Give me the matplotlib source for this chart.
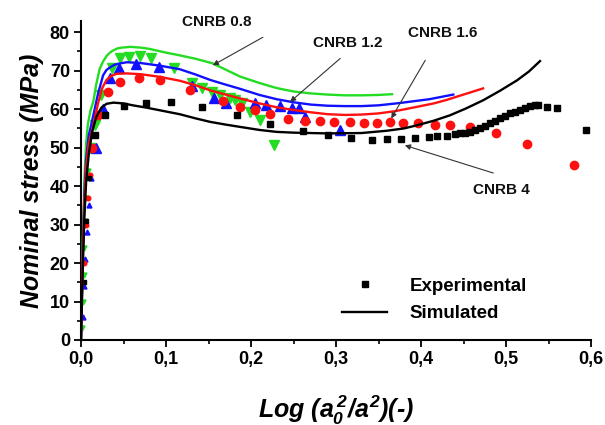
import matplotlib
matplotlib.use("Agg")
import matplotlib.pyplot as plt
from matplotlib.lines import Line2D
from matplotlib.ticker import MultipleLocator, FixedLocator, FixedFormatter

plt.rcParams['font.family'] = ['Liberation Sans', 'DejaVu Sans']
plt.rcParams['font.weight'] = 'bold'
plt.rcParams['mathtext.fontset'] = 'custom'
plt.rcParams['mathtext.it'] = 'Liberation Sans:bold:italic'
plt.rcParams['mathtext.rm'] = 'Liberation Sans:bold:italic'

# ---- simulated curves ----
sim_x_08 = [0, 0.002, 0.004, 0.006, 0.008, 0.011, 0.0145, 0.018, 0.022, 0.026, 0.03, 0.034, 0.038, 0.043, 0.048, 0.058, 0.07, 0.08, 0.09, 0.10, 0.116, 0.135, 0.155, 0.17, 0.187, 0.21, 0.23, 0.25, 0.27, 0.29, 0.31, 0.33, 0.35, 0.366]
sim_y_08 = [0, 25, 42, 51, 56, 59.5, 62, 66.5, 70.5, 72.4, 73.8, 74.7, 75.3, 75.8, 76, 76.2, 76, 75.7, 75.2, 74.7, 74, 73.1, 71.9, 70.3, 68.5, 66.8, 65.5, 64.6, 64.1, 63.8, 63.6, 63.6, 63.7, 63.9]

sim_x_12 = [0, 0.002, 0.004, 0.006, 0.009, 0.0145, 0.02, 0.026, 0.03, 0.035, 0.04, 0.046, 0.054, 0.07, 0.093, 0.116, 0.135, 0.152, 0.17, 0.187, 0.21, 0.23, 0.25, 0.27, 0.29, 0.31, 0.33, 0.35, 0.375, 0.41, 0.438]
sim_y_12 = [0, 22, 38, 47, 53, 58.4, 64, 68.8, 70.2, 71, 71.6, 71.9, 72.2, 72, 71.3, 70.4, 69, 67.6, 66.4, 65.3, 63.7, 62.6, 61.8, 61.2, 60.9, 60.8, 60.8, 61, 61.6, 62.6, 63.8]

sim_x_16 = [0, 0.002, 0.004, 0.006, 0.009, 0.0145, 0.02, 0.025, 0.03, 0.036, 0.042, 0.054, 0.07, 0.093, 0.116, 0.135, 0.152, 0.17, 0.187, 0.21, 0.23, 0.25, 0.27, 0.29, 0.31, 0.33, 0.35, 0.37, 0.395, 0.415, 0.43, 0.45, 0.473]
sim_y_16 = [0, 21, 36, 45, 51, 55.8, 61.5, 65.5, 67.6, 68.7, 69.2, 69.3, 69.1, 68.4, 67.4, 66.2, 64.9, 63.8, 62.8, 61.5, 60.5, 59.8, 59.2, 58.7, 58.5, 58.6, 58.9, 59.5, 60.6, 61.5, 62.4, 63.8, 65.4]

sim_x_4 = [0, 0.002, 0.004, 0.006, 0.009, 0.013, 0.018, 0.024, 0.03, 0.038, 0.05, 0.061, 0.077, 0.093, 0.116, 0.135, 0.152, 0.17, 0.187, 0.21, 0.23, 0.25, 0.29, 0.33, 0.36, 0.38, 0.395, 0.415, 0.434, 0.453, 0.473, 0.493, 0.513, 0.527, 0.54]
sim_y_4 = [0, 18, 32, 41, 48, 54, 58, 60.4, 61.4, 61.7, 61.5, 61, 60.4, 59.7, 58.7, 57.6, 56.7, 56, 55.4, 54.6, 54.1, 53.9, 53.7, 53.8, 54.4, 55, 55.8, 57, 58.4, 60.2, 62.3, 64.8, 67.5, 69.8, 72.5]

# ---- experimental points ----
exp_x_08 = [0.001, 0.002, 0.003, 0.004, 0.005, 0.006, 0.008, 0.011, 0.016, 0.024, 0.036, 0.046, 0.057, 0.069, 0.082, 0.109, 0.130, 0.142, 0.154, 0.164, 0.175, 0.181, 0.189, 0.199, 0.211, 0.227]
exp_y_08 = [3, 10, 17, 24, 31, 37, 44, 50, 56, 63.6, 70.6, 73.2, 73.6, 73.9, 73.3, 70.6, 66.7, 65.4, 64.5, 63.8, 62.8, 62.3, 61.5, 59.3, 57.1, 50.8]

exp_x_12 = [0.002, 0.003, 0.005, 0.007, 0.009, 0.012, 0.018, 0.026, 0.034, 0.045, 0.065, 0.092, 0.130, 0.156, 0.171, 0.205, 0.218, 0.234, 0.248, 0.256, 0.264, 0.305]
exp_y_12 = [6, 14, 21, 28, 35, 42, 50, 60, 68, 70.6, 71.7, 71, 65.9, 62.8, 61.5, 61.5, 61.2, 60.8, 60.4, 60.2, 58, 54.5]

exp_x_16 = [0.004, 0.006, 0.008, 0.010, 0.013, 0.02, 0.032, 0.046, 0.068, 0.093, 0.128, 0.167, 0.187, 0.205, 0.222, 0.244, 0.264, 0.281, 0.298, 0.316, 0.333, 0.348, 0.364, 0.379, 0.397, 0.416, 0.434, 0.458, 0.488, 0.525, 0.58]
exp_y_16 = [20, 30, 37, 43, 50, 58.4, 64.5, 67.1, 68, 67.6, 65.1, 62.1, 60.6, 59.8, 58.7, 57.5, 57, 56.8, 56.7, 56.6, 56.5, 56.5, 56.6, 56.4, 56.4, 56, 55.8, 55.4, 53.7, 50.9, 45.6]

exp_x_4 = [0.003, 0.006, 0.009, 0.016, 0.028, 0.05, 0.076, 0.106, 0.142, 0.183, 0.222, 0.261, 0.29, 0.318, 0.342, 0.36, 0.377, 0.393, 0.409, 0.419, 0.43, 0.44, 0.446, 0.452, 0.458, 0.464, 0.469, 0.475, 0.481, 0.487, 0.493, 0.499, 0.505, 0.511, 0.516, 0.522, 0.528, 0.534, 0.538, 0.548, 0.56, 0.594]
exp_y_4 = [15, 31, 42, 53.2, 58.4, 60.8, 61.7, 61.9, 60.6, 58.4, 56.1, 54.3, 53.2, 52.5, 52.1, 52.2, 52.3, 52.5, 52.8, 52.9, 53.1, 53.5, 53.7, 53.9, 54.1, 54.5, 55, 55.6, 56.3, 57, 57.6, 58.2, 58.9, 59.3, 59.7, 60.4, 60.8, 61, 61.2, 60.6, 60.2, 54.7]

x_ticks = [0.0, 0.1, 0.2, 0.3, 0.4, 0.5, 0.6]
x_ticklabels = ['0,0', '0,1', '0,2', '0,3', '0,4', '0,5', '0,6']
y_ticks = [0, 10, 20, 30, 40, 50, 60, 70, 80]

GREEN = '#22dd22'
BLUE = '#1010ff'
RED = '#ff1010'
BLACK = '#000000'

fig = plt.figure(figsize=(6.05, 4.25), dpi=100)
ax = fig.add_axes([81/605, 1-340/425, 510/605, (340-20.7)/425])

def plot_exp(xs, ys, marker, color, ms):
    # points on the initial steep rise are drawn smaller, as in the original
    lo = [(x, y) for x, y in zip(xs, ys) if x < 0.013 and y < 48]
    hi = [(x, y) for x, y in zip(xs, ys) if not (x < 0.013 and y < 48)]
    if lo:
        ax.plot([p[0] for p in lo], [p[1] for p in lo], marker, color=color, ms=ms * 0.55, ls='none', zorder=2)
    ax.plot([p[0] for p in hi], [p[1] for p in hi], marker, color=color, ms=ms, ls='none', zorder=2)

plot_exp(exp_x_08, exp_y_08, 'v', GREEN, 6.5)
plot_exp(exp_x_12, exp_y_12, '^', BLUE, 6.5)
plot_exp(exp_x_16, exp_y_16, 'o', RED, 6)
plot_exp(exp_x_4, exp_y_4, 's', BLACK, 5)

ax.plot(sim_x_08, sim_y_08, '-', color=GREEN, lw=1.7, zorder=3)
ax.plot(sim_x_12, sim_y_12, '-', color=BLUE, lw=1.7, zorder=3)
ax.plot(sim_x_16, sim_y_16, '-', color=RED, lw=1.7, zorder=3)
ax.plot(sim_x_4, sim_y_4, '-', color=BLACK, lw=1.7, zorder=3)

ax.set_xlim(0, 0.6)
ax.set_ylim(0, 83)
ax.spines['top'].set_visible(False)
ax.spines['right'].set_visible(False)
for s in ('left', 'bottom'):
    ax.spines[s].set_linewidth(1.5)

ax.xaxis.set_major_locator(FixedLocator(x_ticks))
ax.xaxis.set_major_formatter(FixedFormatter(x_ticklabels))
ax.xaxis.set_minor_locator(MultipleLocator(0.05))
ax.yaxis.set_major_locator(FixedLocator(y_ticks))
ax.yaxis.set_minor_locator(MultipleLocator(5))
ax.tick_params(which='major', direction='out', length=5, width=1.3, labelsize=13, pad=3)
ax.tick_params(which='minor', direction='out', length=3, width=1.2)
for lab in ax.get_xticklabels() + ax.get_yticklabels():
    lab.set_fontweight('bold')

ax.set_ylabel('Nominal stress (MPa)', fontsize=18, fontweight='bold', fontstyle='italic', labelpad=4)
ax.set_xlabel(r'Log ($a_0^{\,2}/a^2$)(-)', fontsize=18, fontweight='bold', fontstyle='italic', labelpad=18)

# annotations
tkw = dict(fontsize=11, fontweight='bold', ha='center', va='center', color='#111111')
akw = dict(arrowstyle='-|>', color='#333333', lw=0.8, mutation_scale=8, shrinkA=0, shrinkB=0)
ax.text(0.160, 82.6, 'CNRB 0.8', **tkw)
ax.annotate('', xy=(0.155, 71.4), xytext=(0.214, 78.7), arrowprops=akw)
ax.text(0.314, 77.1, 'CNRB 1.2', **tkw)
ax.annotate('', xy=(0.246, 61.9), xytext=(0.305, 73.2), arrowprops=akw)
ax.text(0.426, 79.7, 'CNRB 1.6', **tkw)
ax.annotate('', xy=(0.365, 57.6), xytext=(0.405, 72.7), arrowprops=akw)
ax.text(0.494, 39.0, 'CNRB 4', **tkw)
ax.annotate('', xy=(0.381, 50.6), xytext=(0.485, 43.4), arrowprops=akw)

handles = [Line2D([], [], marker='s', ls='none', color='k', ms=5),
           Line2D([], [], color='k', lw=1.7)]
leg = ax.legend(handles, ['Experimental', 'Simulated'], loc='center left',
                bbox_to_anchor=(342/605, 1-300/425), bbox_transform=fig.transFigure,
                frameon=False, borderpad=0, borderaxespad=0, handlelength=2.4,
                handletextpad=1.2, labelspacing=0.55,
                prop={'size': 13.5, 'weight': 'bold'})

fig.savefig('out.png', dpi=100)
